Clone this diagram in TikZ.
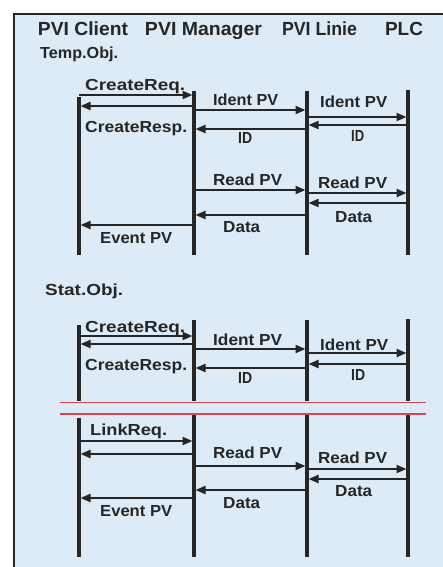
\documentclass[tikz,border=0pt]{standalone}
\usepackage{fontspec}
\setmainfont{Liberation Sans}
\usetikzlibrary{arrows.meta}
\definecolor{bgblue}{HTML}{DDEBF6}
\definecolor{ink}{HTML}{262626}
\definecolor{redline}{HTML}{D04858}
\newcommand\tw[2]{\resizebox{#1pt}{\height}{#2}}
\newcommand\sendmsg[3]{\draw[msg] (#1 |- 0,#3) -- (#2 |- 0,#3);}
\tikzset{
  msg/.style={draw=ink, line width=2pt, -{Triangle[length=10pt,width=8pt]}, shorten >=1.5pt},
  life/.style={draw=ink, line width=3.2pt},
  brk/.style={draw=redline, line width=1.3pt},
  hdr/.style={inner sep=0pt, anchor=base, text=ink, font=\fontsize{19}{21}\selectfont\bfseries},
  lbl/.style={inner sep=0pt, anchor=base west, text=ink, font=\fontsize{16}{18}\selectfont\bfseries},
}
\begin{document}
\begin{tikzpicture}[x=1pt,y=-1pt]
\useasboundingbox (0,0) rectangle (443,567);
\fill[white] (0,0) rectangle (443,567);
\fill[bgblue] (14,14) rectangle (443,567);
\draw[ink, line width=2pt] (443,14) -- (14,14) -- (14,567);
% lifeline x positions
\coordinate (A) at (79,0);
\coordinate (B) at (194,0);
\coordinate (C) at (307,0);
\coordinate (D) at (408,0);
% header
\node[hdr] (hA) at (83,36) {\tw{90}{PVI Client}};
\node[hdr] (hB) at (203.5,36) {\tw{117}{PVI Manager}};
\node[hdr] (hC) at (319.5,36) {\tw{75}{PVI Linie}};
\node[hdr] (hD) at (404,36) {\tw{38}{PLC}};
% ---------- Temp.Obj.
\node[lbl] (temp) at (40,59) {\tw{78}{Temp.Obj.}};
\draw[life] (A |- 0,97) -- (A |- 0,255);
\draw[life] (B |- 0,91) -- (B |- 0,255);
\draw[life] (C |- 0,91) -- (C |- 0,255);
\draw[life] (D |- 0,90) -- (D |- 0,255);
\node[lbl] (t1) at (85,91) {\tw{100}{CreateReq.}};
\node[lbl] (t2) at (213,106) {\tw{65}{Ident PV}};
\node[lbl] (t3) at (320,108) {\tw{67}{Ident PV}};
\node[lbl] (t4) at (85,132) {\tw{102}{CreateResp.}};
\node[lbl] (t5) at (238,143) {\tw{14}{ID}};
\node[lbl] (t6) at (351,141) {\tw{13}{ID}};
\node[lbl] (t7) at (213,185) {\tw{69}{Read PV}};
\node[lbl] (t8) at (318,188) {\tw{69}{Read PV}};
\node[lbl] (t9) at (335,222) {\tw{37}{Data}};
\node[lbl] (t10) at (223,232) {\tw{37}{Data}};
\node[lbl] (t11) at (100,243) {\tw{72}{Event PV}};
\sendmsg{A}{B}{95}
\sendmsg{B}{A}{106}
\sendmsg{B}{C}{110}
\sendmsg{C}{D}{117}
\sendmsg{D}{C}{125}
\sendmsg{C}{B}{129}
\sendmsg{B}{C}{190}
\sendmsg{C}{D}{193}
\sendmsg{D}{C}{203}
\sendmsg{C}{B}{215}
\sendmsg{B}{A}{225}
% ---------- Stat.Obj.
\node[lbl] (stat) at (45,295) {\tw{78}{Stat.Obj.}};
\draw[life] (A |- 0,325) -- (A |- 0,401);
\draw[life] (B |- 0,320) -- (B |- 0,401);
\draw[life] (C |- 0,320) -- (C |- 0,401);
\draw[life] (D |- 0,319) -- (D |- 0,401);
\node[lbl] (s1) at (85,332) {\tw{100}{CreateReq.}};
\node[lbl] (s2) at (213,345) {\tw{69}{Ident PV}};
\node[lbl] (s3) at (320,350) {\tw{68}{Ident PV}};
\node[lbl] (s4) at (85,370) {\tw{102}{CreateResp.}};
\node[lbl] (s5) at (238,383) {\tw{14}{ID}};
\node[lbl] (s6) at (351,380) {\tw{14}{ID}};
\sendmsg{A}{B}{336}
\sendmsg{B}{A}{344}
\sendmsg{B}{C}{349}
\sendmsg{C}{D}{353}
\sendmsg{D}{C}{364}
\sendmsg{C}{B}{368}
% break lines
\coordinate (r1a) at (60,402.5);
\coordinate (r1b) at (426,402.5);
\coordinate (r2a) at (60,414);
\coordinate (r2b) at (426,414);
\draw[brk] (r1a) -- (r1b);
\draw[brk] (r2a) -- (r2b);
% ---------- continuation
\draw[life] (A |- 0,418) -- (A |- 0,557);
\draw[life] (B |- 0,415) -- (B |- 0,557);
\draw[life] (C |- 0,415) -- (C |- 0,557);
\draw[life] (D |- 0,415) -- (D |- 0,557);
\node[lbl] (u1) at (90,435) {\tw{77}{LinkReq.}};
\node[lbl] (u2) at (213,458) {\tw{69}{Read PV}};
\node[lbl] (u3) at (318,463) {\tw{69}{Read PV}};
\node[lbl] (u4) at (335,496) {\tw{37}{Data}};
\node[lbl] (u5) at (223,508) {\tw{37}{Data}};
\node[lbl] (u6) at (100,516) {\tw{72}{Event PV}};
\sendmsg{A}{B}{441}
\sendmsg{B}{A}{454}
\sendmsg{B}{C}{466}
\sendmsg{C}{D}{469}
\sendmsg{D}{C}{479}
\sendmsg{C}{B}{490}
\sendmsg{B}{A}{498}
\end{tikzpicture}
\end{document}
